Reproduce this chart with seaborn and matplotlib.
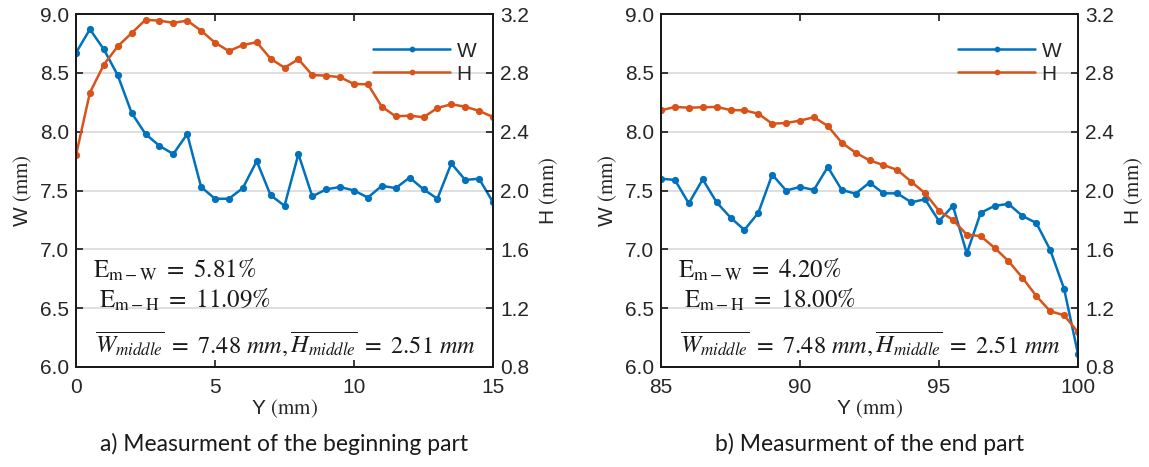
import numpy as np
import pandas as pd
import matplotlib
matplotlib.use("Agg")
import matplotlib.pyplot as plt
import seaborn as sns

# ---------------- data ----------------
y_begin = [i * 0.5 for i in range(31)]
w_begin = [8.67, 8.87, 8.70, 8.48, 8.16, 7.98, 7.88, 7.81, 7.98, 7.53, 7.43, 7.43,
           7.52, 7.75, 7.46, 7.37, 7.81, 7.45, 7.51, 7.53, 7.50, 7.44, 7.54, 7.52,
           7.61, 7.51, 7.43, 7.73, 7.59, 7.60, 7.40]
h_begin = [2.24, 2.665, 2.855, 2.98, 3.07, 3.16, 3.155, 3.14, 3.155, 3.087, 3.005,
           2.948, 2.989, 3.008, 2.896, 2.835, 2.892, 2.785, 2.781, 2.77, 2.724, 2.722,
           2.57, 2.504, 2.509, 2.498, 2.561, 2.586, 2.57, 2.541, 2.50]

y_end = [85 + i * 0.5 for i in range(31)]
w_end = [7.60, 7.59, 7.39, 7.595, 7.40, 7.27, 7.165, 7.31, 7.635, 7.50, 7.53, 7.505,
         7.70, 7.505, 7.473, 7.567, 7.476, 7.476, 7.40, 7.425, 7.24, 7.37, 6.965,
         7.31, 7.37, 7.386, 7.284, 7.224, 6.995, 6.664, 6.11]
h_end = [2.545, 2.568, 2.563, 2.566, 2.568, 2.547, 2.545, 2.522, 2.454, 2.459, 2.475,
         2.498, 2.439, 2.325, 2.257, 2.205, 2.173, 2.14, 2.06, 1.981, 1.862, 1.80,
         1.70, 1.69, 1.61, 1.52, 1.407, 1.283, 1.179, 1.152, 1.036]

w_ticks = [6.0, 6.5, 7.0, 7.5, 8.0, 8.5, 9.0]
h_ticks = [0.8, 1.2, 1.6, 2.0, 2.4, 2.8, 3.2]
x_ticks_begin = [0, 5, 10, 15]
x_ticks_end = [85, 90, 95, 100]

em_begin = ("5.81", "11.09")
em_end = ("4.20", "18.00")
mid_text = r"$\overline{W_{middle}}\ =\ 7.48\ mm, \overline{H_{middle}}\ =\ 2.51\ mm$"
captions = ["a) Measurment of the beginning part", "b) Measurment of the end part"]

# ---------------- style ----------------
sns.set_theme(style="white")
plt.rcParams["font.family"] = ["Liberation Sans", "DejaVu Sans"]
plt.rcParams["mathtext.fontset"] = "stix"

BLUE = "#0072BD"
ORANGE = "#D95319"
TICKC = "#262626"
FS = 15

fig = plt.figure(figsize=(11.49, 4.67), dpi=100)

panels = [
    dict(left=76 / 1149, x=y_begin, w=w_begin, h=h_begin, xlim=(0, 15), xt=x_ticks_begin,
         em=em_begin, cap=captions[0]),
    dict(left=661 / 1149, x=y_end, w=w_end, h=h_end, xlim=(85, 100), xt=x_ticks_end,
         em=em_end, cap=captions[1]),
]

for p in panels:
    ax = fig.add_axes([p["left"], 1 - 367 / 467, 417 / 1149, 353 / 467])
    ax2 = ax.twinx()
    dfw = pd.DataFrame({"Y": p["x"], "W": p["w"]})
    dfh = pd.DataFrame({"Y": p["x"], "H": p["h"]})
    sns.lineplot(data=dfw, x="Y", y="W", ax=ax, color=BLUE, marker="o", markersize=5.2,
                 markeredgewidth=0, linewidth=1.8, label="W", legend=False)
    sns.lineplot(data=dfh, x="Y", y="H", ax=ax2, color=ORANGE, marker="o", markersize=5.2,
                 markeredgewidth=0, linewidth=1.8, label="H", legend=False)
    ax.set_xlim(*p["xlim"])
    ax.set_ylim(6.0, 9.0)
    ax2.set_ylim(0.8, 3.2)
    ax.set_xticks(p["xt"])
    ax.set_yticks(w_ticks)
    ax2.set_yticks(h_ticks)
    ax.set_yticklabels([f"{v:.1f}" for v in w_ticks])
    ax2.set_yticklabels([f"{v:.1f}" for v in h_ticks])
    ax.yaxis.grid(True, color="#DCDCDC", linewidth=1.3)
    ax.xaxis.grid(False)
    ax2.grid(False)
    ax.set_axisbelow(True)
    for a in (ax, ax2):
        for s in a.spines.values():
            s.set_color("#1a1a1a")
            s.set_linewidth(1.4)
            s.set_visible(True)
    ax.tick_params(axis="x", direction="in", top=True, bottom=True, length=5, width=1.2,
                   labelsize=FS, labelcolor=TICKC, pad=8, color="#1a1a1a")
    ax.tick_params(axis="y", direction="in", left=True, right=False, length=5, width=1.2,
                   labelsize=FS, labelcolor=TICKC, pad=5, color="#1a1a1a")
    ax2.tick_params(axis="y", direction="in", right=True, left=False, length=5, width=1.2,
                    labelsize=FS, labelcolor=TICKC, pad=5, color="#1a1a1a")
    ax.set_xlabel(r"Y $\mathrm{(mm)}$", fontsize=FS, color=TICKC, labelpad=0)
    ax.set_ylabel(r"W $\mathrm{(mm)}$", fontsize=FS, color=TICKC, labelpad=4)
    ax2.set_ylabel(r"H $\mathrm{(mm)}$", fontsize=FS, color=TICKC, labelpad=6)

    h1, l1 = ax.get_legend_handles_labels()
    h2, l2 = ax2.get_legend_handles_labels()
    ax2.legend(h1 + h2, l1 + l2, loc="upper left", bbox_to_anchor=(0.668, 0.975),
               frameon=False, fontsize=FS, handlelength=3.7, handletextpad=0.3,
               labelspacing=0.2, markerscale=0.8)

    ax.text(0.04, 0.275, r"$\mathrm{E_{m-W}}\ =\ %s\%%$" % p["em"][0], transform=ax.transAxes,
            fontsize=18, va="center", ha="left", color="#1a1a1a")
    ax.text(0.055, 0.19, r"$\mathrm{E_{m-H}}\ =\ %s\%%$" % p["em"][1], transform=ax.transAxes,
            fontsize=18, va="center", ha="left", color="#1a1a1a")
    ax.text(0.045, 0.065, mid_text, transform=ax.transAxes,
            fontsize=17.5, va="center", ha="left", color="#1a1a1a")

    fig.text(p["left"] + 417 / 1149 / 2, 1 - 444 / 467, p["cap"], ha="center", va="center",
             fontsize=16.5, family=["Lato", "DejaVu Sans"], color="#1a1a1a")

fig.savefig("out.png", dpi=100)
